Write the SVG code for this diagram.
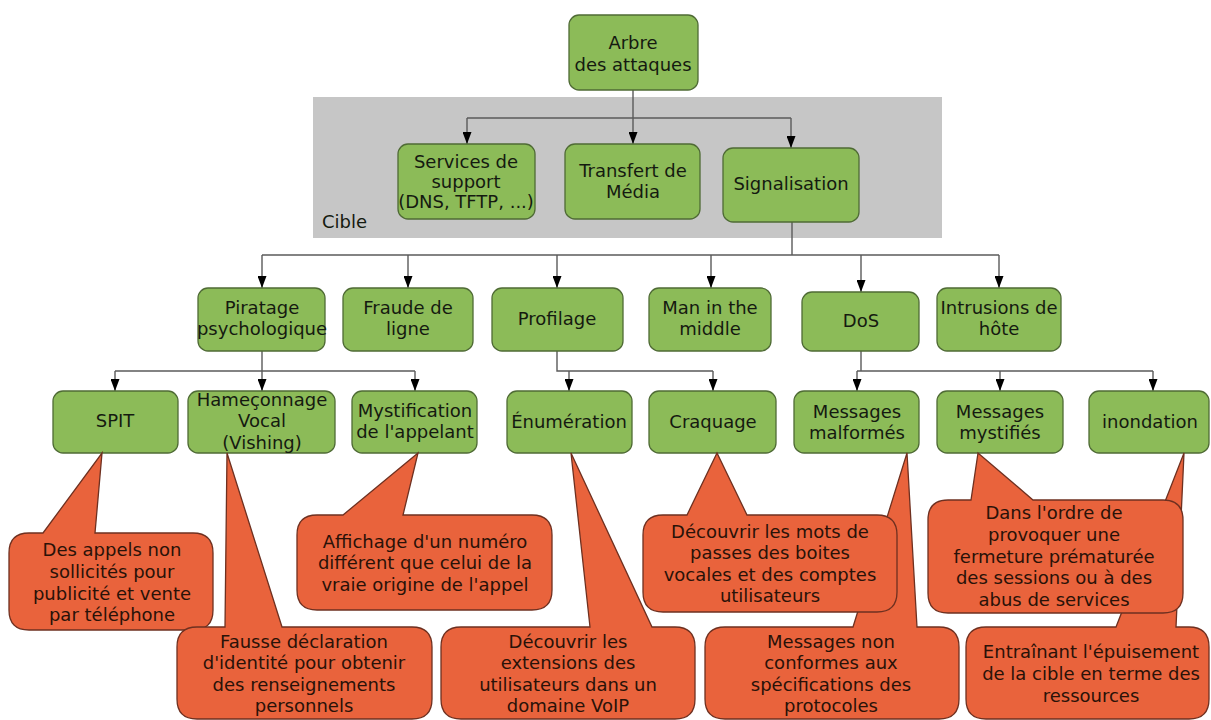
<svg xmlns="http://www.w3.org/2000/svg" width="1211" height="720" viewBox="0 0 1211 720">
<style>
.n rect{fill:#8cbb58;stroke:#4f6b35;stroke-width:1.3}
.n text,.lbl{font-family:"DejaVu Sans",sans-serif;font-size:18px;fill:#151a10;text-anchor:middle}
.c path{fill:#e9633c;stroke:#6e3020;stroke-width:1.3}
.c text{font-family:"DejaVu Sans",sans-serif;font-size:18px;fill:#2a1208;text-anchor:middle}
.e path{fill:none;stroke:#5a5a5a;stroke-width:1.4}
</style>
<defs>
<marker id="ah" markerUnits="userSpaceOnUse" markerWidth="9" markerHeight="12" refX="4.5" refY="12" orient="0" viewBox="0 0 9 12">
<path d="M0,0 L9,0 L4.5,12 z" fill="#000"/>
</marker>
</defs>
<rect x="313" y="97" width="629" height="141" fill="#c6c6c6"/>
<text class="lbl" x="322" y="228" style="text-anchor:start">Cible</text>

<g class="e">
<path d="M633,90 V118"/>
<path d="M467,118 H791"/>
<path d="M467,118 V144" marker-end="url(#ah)"/>
<path d="M633,118 V144" marker-end="url(#ah)"/>
<path d="M791,118 V148" marker-end="url(#ah)"/>
<path d="M792,222 V255"/>
<path d="M262,255 H999"/>
<path d="M262,255 V288" marker-end="url(#ah)"/>
<path d="M408,255 V288" marker-end="url(#ah)"/>
<path d="M557,255 V288" marker-end="url(#ah)"/>
<path d="M711,255 V288" marker-end="url(#ah)"/>
<path d="M861,255 V292" marker-end="url(#ah)"/>
<path d="M999,255 V288" marker-end="url(#ah)"/>
<path d="M262,351 V371"/>
<path d="M115,371 H415"/>
<path d="M115,371 V391" marker-end="url(#ah)"/>
<path d="M262,371 V391" marker-end="url(#ah)"/>
<path d="M415,371 V391" marker-end="url(#ah)"/>
<path d="M557,351 V371 H713"/>
<path d="M569,371 V391" marker-end="url(#ah)"/>
<path d="M713,371 V391" marker-end="url(#ah)"/>
<path d="M861,351 V371"/>
<path d="M857,371 H1153"/>
<path d="M857,371 V391" marker-end="url(#ah)"/>
<path d="M1000,371 V391" marker-end="url(#ah)"/>
<path d="M1153,371 V391" marker-end="url(#ah)"/>
</g>

<g id="n-arbre" class="n"><rect x="569" y="15" width="129" height="75" rx="10"/><text x="633" y="49">Arbre</text><text x="633" y="71">des attaques</text></g>
<g id="n-services" class="n"><rect x="398" y="144" width="137" height="75" rx="10"/><text x="466" y="168">Services de</text><text x="466" y="188">support</text><text x="466" y="208">(DNS, TFTP, ...)</text></g>
<g id="n-transfert" class="n"><rect x="565" y="144" width="135" height="75" rx="10"/><text x="633" y="177">Transfert de</text><text x="633" y="198">Média</text></g>
<g id="n-signalisation" class="n"><rect x="723" y="148" width="136" height="74" rx="10"/><text x="791" y="190">Signalisation</text></g>

<g id="n-piratage" class="n"><rect x="198" y="288" width="127" height="63" rx="10"/><text x="262" y="314">Piratage</text><text x="262" y="335">psychologique</text></g>
<g id="n-fraude" class="n"><rect x="343" y="288" width="130" height="63" rx="10"/><text x="408" y="314">Fraude de</text><text x="408" y="335">ligne</text></g>
<g id="n-profilage" class="n"><rect x="492" y="288" width="131" height="63" rx="10"/><text x="557" y="325">Profilage</text></g>
<g id="n-mitm" class="n"><rect x="649" y="288" width="122" height="63" rx="10"/><text x="710" y="314">Man in the</text><text x="710" y="335">middle</text></g>
<g id="n-dos" class="n"><rect x="802" y="292" width="117" height="59" rx="10"/><text x="861" y="327">DoS</text></g>
<g id="n-intrusions" class="n"><rect x="937" y="288" width="124" height="63" rx="10"/><text x="999" y="314">Intrusions de</text><text x="999" y="335">hôte</text></g>

<g id="n-spit" class="n"><rect x="53" y="391" width="125" height="62" rx="10"/><text x="115" y="427">SPIT</text></g>
<g id="n-hameconnage" class="n"><rect x="188" y="391" width="147" height="62" rx="10"/><text x="262" y="406">Hameçonnage</text><text x="262" y="427">Vocal</text><text x="262" y="449">(Vishing)</text></g>
<g id="n-mystification" class="n"><rect x="352" y="391" width="125" height="62" rx="10"/><text x="415" y="417">Mystification</text><text x="415" y="438">de l'appelant</text></g>
<g id="n-enumeration" class="n"><rect x="507" y="391" width="125" height="62" rx="10"/><text x="569" y="428">Énumération</text></g>
<g id="n-craquage" class="n"><rect x="649" y="391" width="127" height="62" rx="10"/><text x="713" y="428">Craquage</text></g>
<g id="n-malformes" class="n"><rect x="794" y="391" width="125" height="62" rx="10"/><text x="857" y="418">Messages</text><text x="857" y="439">malformés</text></g>
<g id="n-mystifies" class="n"><rect x="937" y="391" width="126" height="62" rx="10"/><text x="1000" y="418">Messages</text><text x="1000" y="439">mystifiés</text></g>
<g id="n-inondation" class="n"><rect x="1089" y="391" width="120" height="62" rx="10"/><text x="1150" y="428">inondation</text></g>

<g id="c-spit" class="c">
<path d="M95,533 H193 Q213,533 213,553 V610 Q213,630 193,630 H29 Q9,630 9,610 V553 Q9,533 29,533 H43 L102,453 Z"/>
<text x="112" y="556">Des appels non</text><text x="112" y="578">sollicités pour</text><text x="112" y="600">publicité et vente</text><text x="112" y="621">par téléphone</text>
</g>
<g id="c-hameconnage" class="c">
<path d="M282,627 H412 Q432,627 432,647 V699 Q432,719 412,719 H197 Q177,719 177,699 V647 Q177,627 197,627 H225 L227,453 Z"/>
<text x="304" y="648">Fausse déclaration</text><text x="304" y="669">d'identité pour obtenir</text><text x="304" y="691">des renseignements</text><text x="304" y="712">personnels</text>
</g>
<g id="c-mystification" class="c">
<path d="M403,515 H532 Q552,515 552,535 V590 Q552,610 532,610 H317 Q297,610 297,590 V535 Q297,515 317,515 H343 L418,453 Z"/>
<text x="425" y="548">Affichage d'un numéro</text><text x="425" y="569">différent que celui de la</text><text x="425" y="591">vraie origine de l'appel</text>
</g>
<g id="c-enumeration" class="c">
<path d="M652,627 H675 Q695,627 695,647 V699 Q695,719 675,719 H461 Q441,719 441,699 V647 Q441,627 461,627 H590 L571,453 Z"/>
<text x="568" y="648">Découvrir les</text><text x="568" y="669">extensions des</text><text x="568" y="691">utilisateurs dans un</text><text x="568" y="712">domaine VoIP</text>
</g>
<g id="c-malformes" class="c">
<path d="M917,627 H939 Q959,627 959,647 V699 Q959,719 939,719 H725 Q705,719 705,699 V647 Q705,627 725,627 H853 L907,453 Z"/>
<text x="831" y="648">Messages non</text><text x="831" y="669">conformes aux</text><text x="831" y="691">spécifications des</text><text x="831" y="712">protocoles</text>
</g>
<g id="c-craquage" class="c">
<path d="M747,515 H877 Q897,515 897,535 V592 Q897,612 877,612 H663 Q643,612 643,592 V535 Q643,515 663,515 H687 L717,453 Z"/>
<text x="770" y="538">Découvrir les mots de</text><text x="770" y="559">passes des boites</text><text x="770" y="581">vocales et des comptes</text><text x="770" y="602">utilisateurs</text>
</g>
<g id="c-inondation" class="c">
<path d="M1176,627 H1189 Q1209,627 1209,647 V699 Q1209,719 1189,719 H986 Q966,719 966,699 V647 Q966,627 986,627 H1116 L1184,453 Z"/>
<text x="1091" y="658">Entraînant l'épuisement</text><text x="1091" y="680">de la cible en terme des</text><text x="1091" y="702">ressources</text>
</g>
<g id="c-mystifies" class="c">
<path d="M1033,500 H1163 Q1183,500 1183,520 V593 Q1183,613 1163,613 H948 Q928,613 928,593 V520 Q928,500 948,500 H971 L978,453 Z"/>
<text x="1054" y="519">Dans l'ordre de</text><text x="1054" y="541">provoquer une</text><text x="1054" y="563">fermeture prématurée</text><text x="1054" y="584">des sessions ou à des</text><text x="1054" y="606">abus de services</text>
</g>
</svg>
